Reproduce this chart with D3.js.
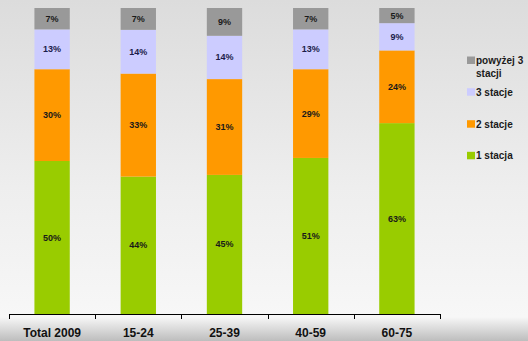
<!DOCTYPE html>
<html><head><meta charset="utf-8">
<script src="https://cdn.jsdelivr.net/npm/d3@7"></script>
<style>html,body{margin:0;padding:0;}svg{display:block;}</style>
</head><body>
<svg id="c" width="528" height="341"></svg>
<script>
const categories = ["Total 2009", "15-24", "25-39", "40-59", "60-75"];
const seriesNames = ["1 stacja", "2 stacje", "3 stacje", "powyżej 3 stacji"];
const s1 = [50, 44, 45, 51, 63];
const s2 = [30, 33, 31, 29, 24];
const s3 = [13, 14, 14, 13, 9];
const s4 = [7, 7, 9, 7, 5];
const colors = ["#99cc00", "#ff9900", "#ccccff", "#999999"];
const legendLines = [["1 stacja"], ["2 stacje"], ["3 stacje"], ["powyżej 3", "stacji"]];

const svg = d3.select("#c");
const W = 528, H = 341;
const defs = svg.append("defs");
const g1 = defs.append("linearGradient").attr("id","bg").attr("x1",0).attr("y1",0).attr("x2",0).attr("y2",1);
g1.append("stop").attr("offset","0").attr("stop-color","#dcdcdc");
g1.append("stop").attr("offset","0.55").attr("stop-color","#eeeeee");
g1.append("stop").attr("offset","0.93").attr("stop-color","#f7f7f7");
g1.append("stop").attr("offset","0.955").attr("stop-color","#e2e2e2");
g1.append("stop").attr("offset","1").attr("stop-color","#bdbdbd");
svg.append("rect").attr("width",W).attr("height",H).attr("fill","url(#bg)");

const data = categories.map((c,i)=>({cat:c, "1 stacja":s1[i], "2 stacje":s2[i], "3 stacje":s3[i], "powyżej 3 stacji":s4[i]}));
const stack = d3.stack().keys(seriesNames).offset(d3.stackOffsetExpand);
const layers = stack(data);

const x = d3.scaleBand().domain(categories).range([9, 440]).paddingInner(0.59).paddingOuter(0.295);
const y = d3.scaleLinear().domain([0,1]).range([314, 8]);

layers.forEach((layer, li) => {
  const gg = svg.append("g");
  gg.selectAll("rect").data(layer).enter().append("rect")
    .attr("x", d=>x(d.data.cat)).attr("width", x.bandwidth())
    .attr("y", d=>y(d[1])).attr("height", d=>y(d[0])-y(d[1]))
    .attr("fill", colors[li]);
  gg.selectAll("text").data(layer).enter().append("text")
    .attr("x", d=>x(d.data.cat)+x.bandwidth()/2)
    .attr("y", d=>(y(d[0])+y(d[1]))/2 + 3)
    .attr("text-anchor","middle")
    .attr("font-family","Liberation Sans, Arial, sans-serif")
    .attr("font-weight","bold").attr("font-size","9px")
    .attr("fill", li===2 ? "#1c1c4a" : "#1a1a1a")
    .text(d=>d.data[seriesNames[li]] + "%");
});

// axis
const axisX = d3.scalePoint().domain(d3.range(6)).range([9, 440]);
const ax = svg.append("g");
ax.append("line").attr("x1",9).attr("x2",440).attr("y1",314.5).attr("y2",314.5).attr("stroke","#000").attr("stroke-width",1);
ax.selectAll("line.t").data(d3.range(6)).enter().append("line").attr("class","t")
  .attr("x1",d=>Math.round(axisX(d))+0.5).attr("x2",d=>Math.round(axisX(d))+0.5)
  .attr("y1",314).attr("y2",319).attr("stroke","#000");
ax.selectAll("text").data(categories).enter().append("text")
  .attr("x", d=>x(d)+x.bandwidth()/2).attr("y", 336.5)
  .attr("text-anchor","middle")
  .attr("font-family","Liberation Sans, Arial, sans-serif")
  .attr("font-weight","bold").attr("font-size","12px").attr("fill","#111")
  .text(d=>d);

// legend (top to bottom: reversed order)
const legOrder = [3,2,1,0];
const legY = [64, 95.7, 127.7, 159.3];
const lg = svg.append("g");
legOrder.forEach((si, k) => {
  const by = legY[k];
  lg.append("rect").attr("x",467).attr("y",by-7.5).attr("width",8).attr("height",7.5).attr("fill",colors[si]);
  const t = lg.append("text").attr("x",476).attr("y",by)
    .attr("font-family","Liberation Sans, Arial, sans-serif")
    .attr("font-weight","bold").attr("font-size","10px").attr("fill","#1a1a1a");
  legendLines[si].forEach((ln, j) => {
    t.append("tspan").attr("x",476).attr("dy", j===0?0:12.5).text(ln);
  });
});
</script>
</body></html>
